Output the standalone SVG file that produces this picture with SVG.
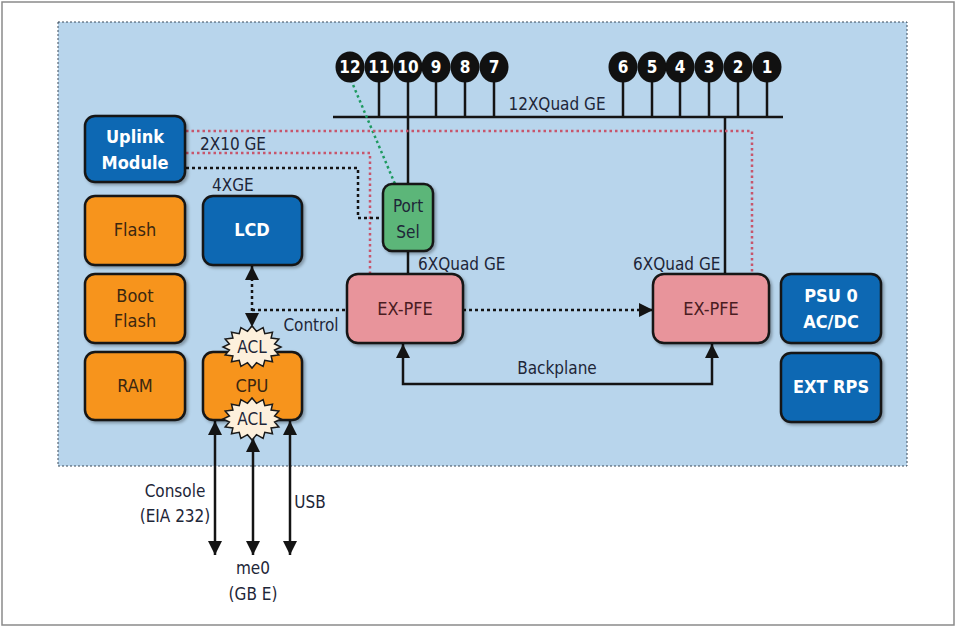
<svg xmlns="http://www.w3.org/2000/svg" width="957" height="628" viewBox="0 0 957 628">
<style>
.t{font-family:"Liberation Sans Narrow","DejaVu Sans Condensed","Liberation Sans",sans-serif;font-size:17px;fill:#1e2638}
.tb{font-family:"Liberation Sans Narrow","DejaVu Sans Condensed","Liberation Sans",sans-serif;font-size:18px;font-weight:bold;fill:#fff}
.to{font-family:"Liberation Sans Narrow","DejaVu Sans Condensed","Liberation Sans",sans-serif;font-size:18px;fill:#3b2710}
.tp{font-family:"Liberation Sans Narrow","DejaVu Sans Condensed","Liberation Sans",sans-serif;font-size:18px;fill:#4a1c22}
.tn{font-family:"Liberation Sans Narrow","DejaVu Sans Condensed","Liberation Sans",sans-serif;font-size:17px;font-weight:bold;fill:#fff}
.box{stroke:#161616;stroke-width:2.5;filter:url(#sh)}
.blue{fill:#0b68b3}
.orange{fill:#f7941e}
.pink{fill:#e8949b}
.green{fill:#5cb679}
.solid{fill:none;stroke:#141414;stroke-width:2.5}
.dot{fill:none;stroke:#141414;stroke-width:2.5;stroke-dasharray:3 3}
.pdot{fill:none;stroke:#c7566c;stroke-width:2.5;stroke-dasharray:2.5 3}
.gdot{fill:none;stroke:#1e9a60;stroke-width:2.5;stroke-dasharray:2.5 3}
</style>
<defs>
<filter id="sh" x="-10%" y="-10%" width="130%" height="130%">
<feDropShadow dx="2" dy="2" stdDeviation="1.5" flood-color="#000" flood-opacity="0.3"/>
</filter>
<marker id="ar" viewBox="0 0 10 10" refX="10" refY="5" markerWidth="14" markerHeight="14" markerUnits="userSpaceOnUse" orient="auto-start-reverse">
<path d="M0,0 L10,5 L0,10 z" fill="#141414"/>
</marker>
<polygon id="acl" points="29,0 22.6,3.1 26.8,8 19.1,8.9 20.5,14.8 12.8,13.3 11.1,19.4 4.5,15.7 0,21 -4.5,15.7 -11.1,19.4 -12.8,13.3 -20.5,14.8 -19.1,8.9 -26.8,8 -22.6,3.1 -29,0 -22.6,-3.1 -26.8,-8 -19.1,-8.9 -20.5,-14.8 -12.8,-13.3 -11.1,-19.4 -4.5,-15.7 0,-21 4.5,-15.7 11.1,-19.4 12.8,-13.3 20.5,-14.8 19.1,-8.9 26.8,-8 22.6,-3.1" fill="#fdf0dc" stroke="#1a1a1a" stroke-width="1.5"/>
</defs>
<rect x="0" y="0" width="957" height="628" fill="#fff"/>
<rect x="2" y="2" width="952" height="623" fill="none" stroke="#8a8a8a" stroke-width="1.5"/>
<rect x="58" y="22" width="849" height="444" fill="#b8d5ec" stroke="#3a4a5a" stroke-width="1" stroke-dasharray="2 2"/>

<g id="connectors">
<path class="solid" d="M333 117 H783"/>
<path class="solid" d="M379 80 V117 M436 80 V117 M465 80 V117 M494 80 V117 M623 80 V117 M652 80 V117 M680 80 V117 M709 80 V117 M738 80 V117 M767 80 V117"/>
<path class="solid" d="M408 80 V184"/>
<path class="solid" d="M408 251 V274"/>
<path class="solid" d="M725 117 V274"/>
<path class="gdot" d="M351 80 L395 184"/>
<path class="pdot" d="M186 131 H752 V274"/>
<path class="pdot" d="M186 153 H370 V274"/>
<path class="dot" d="M186 168 H358 V218 H383"/>
<path class="dot" d="M252 266 V327" marker-start="url(#ar)" marker-end="url(#ar)"/>
<path class="dot" d="M252 310 H347"/>
<path class="dot" d="M463 310 H653" marker-end="url(#ar)"/>
<path class="solid" d="M403 344 V384 H712 V344" marker-start="url(#ar)" marker-end="url(#ar)"/>
<path class="solid" d="M215 421 V555" marker-start="url(#ar)" marker-end="url(#ar)"/>
<path class="solid" d="M253 438 V555" marker-start="url(#ar)" marker-end="url(#ar)"/>
<path class="solid" d="M290 421 V555" marker-start="url(#ar)" marker-end="url(#ar)"/>
</g>

<g id="ports">
<g id="p12"><ellipse cx="350" cy="67" rx="14.5" ry="15.5" fill="#111"/><text class="tn" x="350" y="73" text-anchor="middle">12</text></g>
<g id="p11"><ellipse cx="379" cy="67" rx="14.5" ry="15.5" fill="#111"/><text class="tn" x="379" y="73" text-anchor="middle">11</text></g>
<g id="p10"><ellipse cx="408" cy="67" rx="14.5" ry="15.5" fill="#111"/><text class="tn" x="408" y="73" text-anchor="middle">10</text></g>
<g id="p9"><ellipse cx="436" cy="67" rx="14.5" ry="15.5" fill="#111"/><text class="tn" x="436" y="73" text-anchor="middle">9</text></g>
<g id="p8"><ellipse cx="465" cy="67" rx="14.5" ry="15.5" fill="#111"/><text class="tn" x="465" y="73" text-anchor="middle">8</text></g>
<g id="p7"><ellipse cx="494" cy="67" rx="14.5" ry="15.5" fill="#111"/><text class="tn" x="494" y="73" text-anchor="middle">7</text></g>
<g id="p6"><ellipse cx="623" cy="67" rx="14.5" ry="15.5" fill="#111"/><text class="tn" x="623" y="73" text-anchor="middle">6</text></g>
<g id="p5"><ellipse cx="652" cy="67" rx="14.5" ry="15.5" fill="#111"/><text class="tn" x="652" y="73" text-anchor="middle">5</text></g>
<g id="p4"><ellipse cx="680" cy="67" rx="14.5" ry="15.5" fill="#111"/><text class="tn" x="680" y="73" text-anchor="middle">4</text></g>
<g id="p3"><ellipse cx="709" cy="67" rx="14.5" ry="15.5" fill="#111"/><text class="tn" x="709" y="73" text-anchor="middle">3</text></g>
<g id="p2"><ellipse cx="738" cy="67" rx="14.5" ry="15.5" fill="#111"/><text class="tn" x="738" y="73" text-anchor="middle">2</text></g>
<g id="p1"><ellipse cx="767" cy="67" rx="14.5" ry="15.5" fill="#111"/><text class="tn" x="767" y="73" text-anchor="middle">1</text></g>
</g>

<g id="labels">
<text class="t" x="557" y="110" text-anchor="middle">12XQuad GE</text>
<text class="t" x="200" y="150">2X10 GE</text>
<text class="t" x="212" y="191">4XGE</text>
<text class="t" x="418" y="270">6XQuad GE</text>
<text class="t" x="633" y="270">6XQuad GE</text>
<text class="t" x="311" y="331" text-anchor="middle">Control</text>
<text class="t" x="557" y="374" text-anchor="middle">Backplane</text>
<text class="t" x="175" y="497" text-anchor="middle">Console</text>
<text class="t" x="175" y="522" text-anchor="middle">(EIA 232)</text>
<text class="t" x="310" y="508" text-anchor="middle">USB</text>
<text class="t" x="253" y="574" text-anchor="middle">me0</text>
<text class="t" x="253" y="600" text-anchor="middle">(GB E)</text>
</g>

<g id="uplink"><rect class="box blue" x="85" y="116" width="100" height="66" rx="10"/><text class="tb" x="135" y="143" text-anchor="middle">Uplink</text><text class="tb" x="135" y="169" text-anchor="middle">Module</text></g>
<g id="flash"><rect class="box orange" x="85" y="196" width="100" height="69" rx="10"/><text class="to" x="135" y="236" text-anchor="middle">Flash</text></g>
<g id="bootflash"><rect class="box orange" x="85" y="274" width="100" height="69" rx="10"/><text class="to" x="135" y="302" text-anchor="middle">Boot</text><text class="to" x="135" y="327" text-anchor="middle">Flash</text></g>
<g id="ram"><rect class="box orange" x="85" y="352" width="100" height="68" rx="10"/><text class="to" x="135" y="392" text-anchor="middle">RAM</text></g>
<g id="lcd"><rect class="box blue" x="203" y="196" width="99" height="69" rx="10"/><text class="tb" x="252" y="236" text-anchor="middle">LCD</text></g>
<g id="cpu"><rect class="box orange" x="203" y="352" width="99" height="68" rx="10"/><text class="to" x="252" y="392" text-anchor="middle">CPU</text>
<use href="#acl" x="252" y="347"/><text class="t" x="252" y="353" text-anchor="middle" font-size="16">ACL</text>
<use href="#acl" x="252" y="419"/><text class="t" x="252" y="425" text-anchor="middle" font-size="16">ACL</text></g>
<g id="portsel"><rect class="box green" x="383" y="184" width="50" height="67" rx="9"/><text class="t" x="408" y="212" text-anchor="middle" font-size="18">Port</text><text class="t" x="408" y="238" text-anchor="middle" font-size="18">Sel</text></g>
<g id="pfe1"><rect class="box pink" x="347" y="274" width="116" height="69" rx="11"/><text class="tp" x="405" y="315" text-anchor="middle">EX-PFE</text></g>
<g id="pfe2"><rect class="box pink" x="653" y="274" width="116" height="69" rx="11"/><text class="tp" x="711" y="315" text-anchor="middle">EX-PFE</text></g>
<g id="psu0"><rect class="box blue" x="781" y="274" width="100" height="69" rx="10"/><text class="tb" x="831" y="302" text-anchor="middle">PSU 0</text><text class="tb" x="831" y="328" text-anchor="middle">AC/DC</text></g>
<g id="extrps"><rect class="box blue" x="781" y="353" width="100" height="69" rx="10"/><text class="tb" x="831" y="393" text-anchor="middle">EXT RPS</text></g>
</svg>
